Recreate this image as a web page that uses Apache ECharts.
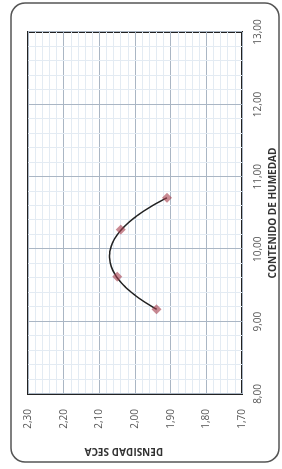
<!DOCTYPE html>
<html>
<head>
<meta charset="utf-8">
<script src="https://cdn.jsdelivr.net/npm/echarts@6/dist/echarts.min.js"></script>
<style>
html, body { margin: 0; padding: 0; background: #fff; overflow: hidden; }
#wrap { position: relative; width: 282px; height: 469px; }
/* the sheet is scanned on its side: draw the chart upright, then turn it */
#main {
    position: absolute; left: 0; top: 0;
    width: 469px; height: 282px;
    transform-origin: 0 0;
    transform: translateY(469px) rotate(-90deg);
}
</style>
</head>
<body>
<div id="wrap"><div id="main"></div></div>
<script>
// contenido de humedad (%) vs densidad seca (g/cm3)
var humedad = [9.17, 9.62, 10.27, 10.71];
var densidad = [1.94, 2.05, 2.04, 1.91];
var humedadTicks = [8, 9, 10, 11, 12, 13];
var densidadTicks = [1.70, 1.80, 1.90, 2.00, 2.10, 2.20, 2.30];

function fmt(v){
    return v.toFixed(2).replace('.', ',');
}

var points = [];
for (var i = 0; i < humedad.length; i++) {
    points.push([humedad[i], densidad[i]]);
}

// polynomial (2nd order) trend line, least squares on the points
function fitQuadratic(xs, ys){
    var n = xs.length, m = 0;
    for (var i = 0; i < n; i++) m += xs[i] / n;
    var s1 = 0, s2 = 0, s3 = 0, s4 = 0, y0 = 0, y1 = 0, y2 = 0;
    for (var i = 0; i < n; i++) {
        var t = xs[i] - m;
        s1 += t; s2 += t * t; s3 += t * t * t; s4 += t * t * t * t;
        y0 += ys[i]; y1 += t * ys[i]; y2 += t * t * ys[i];
    }
    // solve [n s1 s2; s1 s2 s3; s2 s3 s4] [c b a] = [y0 y1 y2]
    var A = [[n, s1, s2, y0], [s1, s2, s3, y1], [s2, s3, s4, y2]];
    for (var k = 0; k < 3; k++) {
        for (var r = k + 1; r < 3; r++) {
            var f = A[r][k] / A[k][k];
            for (var j = k; j < 4; j++) A[r][j] -= f * A[k][j];
        }
    }
    var sol = [0, 0, 0];
    for (var k = 2; k >= 0; k--) {
        var v = A[k][3];
        for (var j = k + 1; j < 3; j++) v -= A[k][j] * sol[j];
        sol[k] = v / A[k][k];
    }
    return function (x) { var t = x - m; return sol[0] + sol[1] * t + sol[2] * t * t; };
}

var trend = fitQuadratic(humedad, densidad);

function renderTrend(params, api){
    if (params.dataIndex !== 0) return null;
    var h0 = Math.min.apply(null, humedad), h1 = Math.max.apply(null, humedad);
    var pts = [];
    for (var k = 0; k <= 60; k++) {
        var h = h0 + (h1 - h0) * k / 60;
        pts.push(api.coord([h, trend(h)]));
    }
    return {
        type: 'polyline',
        shape: { points: pts },
        style: { fill: null, stroke: '#222', lineWidth: 1.5 }
    };
}

var myChart = echarts.init(document.getElementById('main'));

var option = {
    animation: false,
    graphic: [{
        type: 'rect',
        shape: { x: 7, y: 11, width: 459, height: 268, r: 14 },
        style: { fill: 'none', stroke: '#555', lineWidth: 1.5 }
    }],
    grid: {
        left: 75, right: 32, top: 28, bottom: 40,
        outerBoundsMode: 'none',
        show: true,
        borderColor: '#222',
        borderWidth: 2
    },
    xAxis: {
        type: 'value',
        min: humedadTicks[0],
        max: humedadTicks[humedadTicks.length - 1],
        interval: 1,
        name: 'CONTENIDO DE HUMEDAD',
        nameLocation: 'middle',
        nameGap: 24,
        nameTextStyle: { fontFamily: 'Open Sans', fontWeight: 'bold', fontSize: 10, color: '#333' },
        axisLine: { show: false },
        axisTick: { show: false },
        axisLabel: {
            margin: 11,
            fontFamily: 'Open Sans',
            fontSize: 10,
            color: '#555',
            formatter: function (v) { return fmt(v); }
        },
        splitLine: { lineStyle: { color: '#aab6c4', width: 1 } },
        minorTick: { show: false, splitNumber: 5 },
        minorSplitLine: { show: true, lineStyle: { color: '#e3ebf3', width: 1 } }
    },
    yAxis: {
        type: 'value',
        min: densidadTicks[0],
        max: densidadTicks[densidadTicks.length - 1],
        interval: 0.1,
        name: 'DENSIDAD SECA',
        nameLocation: 'middle',
        nameGap: 52,
        nameTextStyle: { fontFamily: 'Open Sans', fontWeight: 'bold', fontSize: 10, color: '#333', padding: [0, 0, 0, 22] },
        axisLine: { show: false },
        axisTick: { show: false },
        axisLabel: {
            margin: 15,
            fontFamily: 'Open Sans',
            fontSize: 10,
            color: '#555',
            formatter: function (v) { return fmt(v); }
        },
        splitLine: { lineStyle: { color: '#aab6c4', width: 1 } },
        minorTick: { show: false, splitNumber: 5 },
        minorSplitLine: { show: true, lineStyle: { color: '#e3ebf3', width: 1 } }
    },
    series: [{
        type: 'custom',
        data: points,
        renderItem: renderTrend,
        z: 2
    }, {
        type: 'scatter',
        data: points,
        symbol: 'diamond',
        symbolSize: 10,
        itemStyle: { color: 'rgba(165, 60, 75, 0.75)' },
        z: 3
    }]
};

myChart.setOption(option);
</script>
</body>
</html>
